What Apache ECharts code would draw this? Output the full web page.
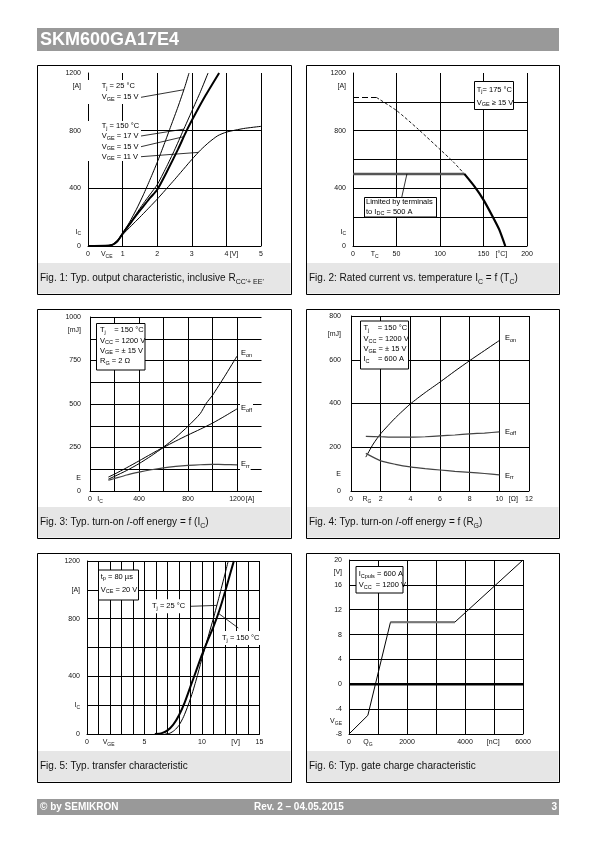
<!DOCTYPE html>
<html><head><meta charset="utf-8">
<script src="https://cdn.jsdelivr.net/npm/echarts@6/dist/echarts.min.js"></script>
<style>html,body{margin:0;padding:0;background:#fff}#c{width:595px;height:842px}</style>
</head><body><div id="c"></div>
<script>
// ================= DATA =================
// Fig 1: output characteristic (VCE [V] -> IC [A])
const fig1_t25_vge15_vce  = [0, 0.5, 0.7, 0.85, 1.0, 1.2, 1.4, 1.6, 1.8, 2.0, 2.2, 2.4, 2.6, 2.8, 2.92];
const fig1_t25_vge15_ic   = [0, 1, 10, 40, 90, 165, 255, 355, 465, 580, 705, 835, 965, 1105, 1200];
const fig1_t150_vge17_vce = [0, 0.5, 0.7, 0.85, 1.0, 1.2, 1.4, 1.6, 1.8, 2.0, 2.25, 2.5, 2.75, 3.0, 3.25, 3.47];
const fig1_t150_vge17_ic  = [0, 1, 8, 35, 88, 155, 225, 295, 360, 425, 540, 665, 800, 935, 1070, 1200];
const fig1_t150_vge15_vce = [0, 0.5, 0.7, 0.85, 1.0, 1.2, 1.4, 1.6, 1.8, 2.0, 2.3, 2.6, 2.85, 3.1, 3.4, 3.79];
const fig1_t150_vge15_ic  = [0, 1, 8, 33, 85, 150, 215, 275, 335, 390, 525, 670, 800, 915, 1045, 1200];
const fig1_t150_vge11_vce = [0, 0.5, 0.7, 0.85, 1.0, 1.25, 1.5, 2.0, 2.5, 3.0, 3.25, 3.5, 3.75, 4.0, 4.5, 5.0];
const fig1_t150_vge11_ic  = [0, 1, 6, 30, 78, 140, 200, 325, 460, 600, 665, 720, 765, 790, 815, 830];
const fig1_xTicks = [0, 1, 2, 3, 4, 5];
const fig1_yTicks = [0, 400, 800, 1200];

// Fig 2: rated current vs. case temperature (TC [°C] -> IC [A])
const fig2_flat_tc    = [0, 27];
const fig2_flat_ic    = [1030, 1030];
const fig2_dash_tc    = [27, 50, 75, 100, 115, 128];
const fig2_dash_ic    = [1030, 940, 810, 670, 585, 500];
const fig2_limit_tc   = [0, 128];
const fig2_limit_ic   = [500, 500];
const fig2_solid_tc   = [128, 140, 150, 160, 168, 175];
const fig2_solid_ic   = [500, 410, 320, 210, 115, 0];
const fig2_xTicks = [0, 50, 100, 150, 200];
const fig2_yTicks = [0, 400, 800, 1200];

// Fig 3: switching energy vs IC (IC [A] -> E [mJ])
const fig3_eon_ic  = [150, 200, 300, 400, 500, 600, 700, 800, 900, 950, 1000, 1100, 1200];
const fig3_eon     = [80, 97, 134, 173, 213, 253, 308, 372, 445, 505, 550, 660, 775];
const fig3_ic      = [150, 200, 300, 400, 500, 600, 700, 800, 900, 1000, 1100, 1200];
const fig3_eoff    = [68, 84, 118, 157, 202, 250, 287, 322, 355, 390, 430, 472];
const fig3_err     = [62, 72, 92, 108, 122, 133, 141, 147, 151, 153, 152, 150];
const fig3_xTicks = [0, 400, 800, 1200];
const fig3_yTicks = [0, 250, 500, 750, 1000];

// Fig 4: switching energy vs RG (RG [Ohm] -> E [mJ])
const fig4_eon_rg  = [1, 1.5, 2, 3, 4, 5, 6, 7, 8, 9, 10];
const fig4_eon     = [155, 215, 262, 335, 398, 450, 498, 548, 596, 642, 688];
const fig4_rg      = [1, 2, 3, 4, 5, 6, 7, 8, 9, 10];
const fig4_eoff    = [250, 248, 246, 246, 248, 252, 256, 261, 265, 270];
const fig4_err     = [172, 138, 122, 110, 102, 96, 90, 85, 80, 74];
const fig4_xTicks = [0, 2, 4, 6, 8, 10, 12];
const fig4_yTicks = [0, 200, 400, 600, 800];

// Fig 5: transfer characteristic (VGE [V] -> IC [A])
const fig5_t150_vge = [5.9, 6.5, 7.0, 7.5, 8.0, 8.5, 9.0, 9.5, 10.0, 10.5, 11.0, 11.5, 12.0, 12.5, 12.77];
const fig5_t150_ic  = [0, 6, 25, 65, 130, 220, 330, 440, 550, 650, 745, 855, 985, 1125, 1200];
const fig5_t25_vge  = [6.8, 7.2, 7.6, 8.0, 8.4, 8.8, 9.2, 9.6, 10.0, 10.5, 11.0, 11.5, 12.0, 12.28];
const fig5_t25_ic   = [0, 5, 25, 60, 120, 200, 295, 405, 525, 665, 805, 955, 1110, 1200];
const fig5_xTicks = [0, 5, 10, 15];
const fig5_yTicks = [0, 400, 800, 1200];

// Fig 6: gate charge (QG [nC] -> VGE [V])
const fig6_qg      = [0, 650, 1430, 3650, 6000];
const fig6_vge     = [-8, -5, 10, 10, 20];
const fig6_plat_qg = [1430, 3650];
const fig6_plat_v  = [10, 10];
const fig6_zero_qg = [0, 6000];
const fig6_zero_v  = [0, 0];
const fig6_xTicks = [0, 2000, 4000, 6000];
const fig6_yTicks = [-8, -4, 0, 4, 8, 12, 16, 20];

// ================= CHART =================
const FONT = '"Liberation Sans", Arial, Helvetica, sans-serif';
const chart = echarts.init(document.getElementById('c'), null, {renderer: 'canvas', width: 595, height: 842});

const RICH = {
  m: {fontSize: 7, lineHeight: 10, fontFamily: FONT, color: '#111'},
  s: {fontSize: 5, lineHeight: 6, verticalAlign: 'bottom', fontFamily: FONT, color: '#111'}
};
const sub = (m, s) => s ? `{m|${m}}{s|${s}}` : `{m|${m}}`;

const grids = [
  {left: 88,  top: 73,  width: 173,   height: 173},
  {left: 353, top: 73,  width: 174,   height: 173},
  {left: 90,  top: 317, width: 171.5, height: 174},
  {left: 351, top: 316, width: 178,   height: 175},
  {left: 87,  top: 561, width: 172.5, height: 173},
  {left: 349, top: 560, width: 174,   height: 174}
];

function axis(idx, min, max, interval, ticks, units, margin, showMax) {
  const map = {};
  ticks.forEach(t => map[String(t)] = sub(String(t)));
  units.forEach(u => map[String(u[0])] = sub(u[1], u[2]));
  return {
    type: 'value', gridIndex: idx, min, max, interval,
    axisLine: {show: true, onZero: false, lineStyle: {color: '#000', width: 1}},
    axisTick: {show: false},
    axisLabel: {
      customValues: ticks.concat(units.map(u => u[0])),
      formatter: v => map[String(v)] || '',
      rich: RICH, margin, hideOverlap: false, showMinLabel: true, showMaxLabel: true
    },
    splitLine: {show: true, showMinLine: false, showMaxLine: showMax, lineStyle: {color: '#000', width: 1}}
  };
}

const xAxes = [
  axis(0, 0, 5, 1, fig1_xTicks, [[0.54, 'V', 'CE'], [4.22, '[V]']], 3, true),
  axis(1, 0, 200, 50, fig2_xTicks, [[25, 'T', 'C'], [170.5, '[°C]']], 3, true),
  axis(2, 0, 1400, 200, fig3_xTicks, [[82, 'I', 'C'], [1306, '[A]']], 3.5, false),
  axis(3, 0, 12, 2, fig4_xTicks, [[1.08, 'R', 'G'], [10.94, '[Ω]']], 3.5, true),
  axis(4, 0, 15, 1, fig5_xTicks, [[1.88, 'V', 'GE'], [12.92, '[V]']], 3.5, true),
  axis(5, 0, 6000, 1000, fig6_xTicks, [[653, 'Q', 'G'], [4974, '[nC]']], 3.5, true)
];
const yAxes = [
  axis(0, 0, 1200, 400, fig1_yTicks, [[100, 'I', 'C'], [1112, '[A]']], 7, false),
  axis(1, 0, 1200, 200, fig2_yTicks, [[100, 'I', 'C'], [1112, '[A]']], 7, false),
  axis(2, 0, 1000, 125, fig3_yTicks, [[77, 'E'], [923, '[mJ]']], 9, true),
  axis(3, 0, 800, 200, fig4_yTicks, [[79, 'E'], [716, '[mJ]']], 10, true),
  axis(4, 0, 1200, 200, fig5_yTicks, [[200, 'I', 'C'], [1000, '[A]']], 7, true),
  axis(5, -8, 20, 4, fig6_yTicks, [[-5.9, 'V', 'GE'], [18, '[V]']], 7, true)
];

function ser(idx, xs, ys, o = {}) {
  return {
    type: 'line', xAxisIndex: idx, yAxisIndex: idx,
    data: xs.map((x, i) => [x, ys[i]]),
    symbol: 'none', showSymbol: false, smooth: o.smooth === undefined ? 0.2 : o.smooth,
    silent: true, animation: false, z: o.z || 3,
    lineStyle: {color: o.color || '#000', width: o.width || 1, type: o.type || 'solid'}
  };
}

const series = [
  ser(0, fig1_t25_vge15_vce, fig1_t25_vge15_ic, {width: 1}),
  ser(0, fig1_t150_vge17_vce, fig1_t150_vge17_ic, {width: 1}),
  ser(0, fig1_t150_vge15_vce, fig1_t150_vge15_ic, {width: 2}),
  ser(0, fig1_t150_vge11_vce, fig1_t150_vge11_ic, {width: 1}),

  ser(1, fig2_flat_tc, fig2_flat_ic, {width: 1.2, type: [6, 3], smooth: false}),
  ser(1, fig2_dash_tc, fig2_dash_ic, {width: 0.9, type: [3, 2]}),
  ser(1, fig2_limit_tc, fig2_limit_ic, {width: 2.5, color: '#555', smooth: false}),
  ser(1, fig2_solid_tc, fig2_solid_ic, {width: 2.2}),

  ser(2, fig3_eon_ic, fig3_eon, {width: 1}),
  ser(2, fig3_ic, fig3_eoff, {width: 1}),
  ser(2, fig3_ic, fig3_err, {width: 1.2, color: '#444'}),

  ser(3, fig4_eon_rg, fig4_eon, {width: 1}),
  ser(3, fig4_rg, fig4_eoff, {width: 1.2, color: '#444'}),
  ser(3, fig4_rg, fig4_err, {width: 1.2, color: '#444'}),

  ser(4, fig5_t25_vge, fig5_t25_ic, {width: 1}),
  ser(4, fig5_t150_vge, fig5_t150_ic, {width: 2}),

  ser(5, fig6_zero_qg, fig6_zero_v, {width: 2.5, smooth: false}),
  ser(5, fig6_qg, fig6_vge, {width: 1, smooth: false}),
  ser(5, fig6_plat_qg, fig6_plat_v, {width: 2, color: '#777', smooth: false, z: 4})
];

chart.setOption({
  animation: false,
  backgroundColor: '#fff',
  grid: grids,
  xAxis: xAxes,
  yAxis: yAxes,
  series
});

// ================= DECORATION / ANNOTATIONS =================
function interp(xs, ys, x) {
  for (let i = 1; i < xs.length; i++) {
    if (x <= xs[i]) { const t = (x - xs[i - 1]) / (xs[i] - xs[i - 1]); return ys[i - 1] + t * (ys[i] - ys[i - 1]); }
  }
  return ys[ys.length - 1];
}
const px = (g, x, y) => chart.convertToPixel({gridIndex: g}, [x, y]);

const RA = {
  m: {fontSize: 7.5, lineHeight: 10, fontFamily: FONT, fill: '#000'},
  s: {fontSize: 5.5, lineHeight: 6, verticalAlign: 'bottom', fontFamily: FONT, fill: '#000'}
};
const RC = {
  m: {fontSize: 10, lineHeight: 14, fontFamily: FONT, fill: '#111'},
  s: {fontSize: 7, lineHeight: 8, verticalAlign: 'bottom', fontFamily: FONT, fill: '#111'}
};
function T(x, y, text, o = {}) {
  return {type: 'text', x, y, z: o.z || 100, silent: true,
    style: {text, rich: o.rich || RA, align: o.align || 'left', verticalAlign: 'middle', fill: o.fill || '#000',
      font: o.font, backgroundColor: o.bg, padding: o.pad}};
}
function R(x, y, w, h, o = {}) {
  return {type: 'rect', z: o.z || 0, silent: true, shape: {x, y, width: w, height: h},
    style: {fill: o.fill || 'none', stroke: o.stroke || null, lineWidth: o.lw || 1}};
}
function L(x1, y1, p, o = {}) {
  return {type: 'line', z: 100, silent: true, shape: {x1, y1, x2: p[0], y2: p[1]},
    style: {stroke: '#000', lineWidth: o.lw || 0.8}};
}

const G = [];
// header & footer
G.push(R(37, 28, 522, 23, {fill: '#999999'}));
G.push({type: 'text', x: 40, y: 40, z: 10, silent: true, style: {text: 'SKM600GA17E4', fill: '#fff', font: 'bold 18px ' + FONT, verticalAlign: 'middle'}});
G.push(R(37, 799, 522, 16, {fill: '#999999'}));
G.push({type: 'text', x: 40, y: 807.5, z: 10, silent: true, style: {text: '© by SEMIKRON', fill: '#fff', font: 'bold 10px ' + FONT, verticalAlign: 'middle'}});
G.push({type: 'text', x: 254, y: 807.5, z: 10, silent: true, style: {text: 'Rev. 2 – 04.05.2015', fill: '#fff', font: 'bold 10px ' + FONT, verticalAlign: 'middle'}});
G.push({type: 'text', x: 557, y: 807.5, z: 10, silent: true, style: {text: '3', fill: '#fff', font: 'bold 10px ' + FONT, align: 'right', verticalAlign: 'middle'}});

// panel boxes & caption bands
const boxes = [[37, 65], [306, 65], [37, 309], [306, 309], [37, 553], [306, 553]];
const captions = [
  '{m|Fig. 1: Typ. output characteristic, inclusive R}{s|CC\'+ EE\'}',
  '{m|Fig. 2: Rated current vs. temperature I}{s|C}{m| = f (T}{s|C}{m|)}',
  '{m|Fig. 3: Typ. turn-on /-off energy = f (I}{s|C}{m|)}',
  '{m|Fig. 4: Typ. turn-on /-off energy = f (R}{s|G}{m|)}',
  '{m|Fig. 5: Typ. transfer characteristic}',
  '{m|Fig. 6: Typ. gate charge characteristic}'
];
boxes.forEach(([bx, by], i) => {
  const w = i % 2 === 0 ? 254 : 253;
  G.push(R(bx + 0.5, by + 198, w - 1, 30.5, {fill: '#e6e6e6', z: 0}));
  G.push(R(bx + 0.5, by + 0.5, w, 229, {stroke: '#000', lw: 1, z: 1}));
  G.push(T(bx + 3, by + 213.5, captions[i], {rich: RC, z: 5}));
});

// ---- Fig 1 annotations
G.push(R(84, 80, 57, 24, {fill: '#fff', z: 90}));
G.push(R(84, 121, 57, 40, {fill: '#fff', z: 90}));
G.push(T(101.7, 86, '{m|T}{s|j}{m| = 25 °C}'));
G.push(T(101.7, 97.3, '{m|V}{s|GE}{m| = 15 V}'));
G.push(T(101.7, 126, '{m|T}{s|j}{m| = 150 °C}'));
G.push(T(101.7, 136, '{m|V}{s|GE}{m| = 17 V}'));
G.push(T(101.7, 146.7, '{m|V}{s|GE}{m| = 15 V}'));
G.push(T(101.7, 156.7, '{m|V}{s|GE}{m| = 11 V}'));
G.push(L(141, 97.3, px(0, 2.77, interp(fig1_t25_vge15_vce, fig1_t25_vge15_ic, 2.77))));
G.push(L(141, 136, px(0, 2.77, interp(fig1_t150_vge17_vce, fig1_t150_vge17_ic, 2.77))));
G.push(L(141, 146.7, px(0, 2.77, interp(fig1_t150_vge15_vce, fig1_t150_vge15_ic, 2.77))));
G.push(L(141, 156.7, px(0, 3.19, interp(fig1_t150_vge11_vce, fig1_t150_vge11_ic, 3.19))));

// ---- Fig 2 annotations
G.push(R(474.5, 81.5, 39, 28, {fill: '#fff', stroke: '#000', z: 90}));
G.push(T(476.7, 89.5, '{m|T}{s|j}{m|= 175 °C}'));
G.push(T(476.7, 102.5, '{m|V}{s|GE}{m| ≥ 15 V}'));
G.push(R(364.5, 197.5, 72, 19.5, {fill: '#fff', stroke: '#000', z: 90}));
G.push(T(366, 202, '{m|Limited by terminals}'));
G.push(T(366, 211.5, '{m|to I}{s|DC}{m| = 500 A}'));
G.push(L(401.7, 197.5, px(1, 62, 500)));

// ---- Fig 3 annotations
G.push(R(96.5, 323.5, 48.5, 46.5, {fill: '#fff', stroke: '#000', z: 90}));
G.push(T(100, 330, '{m|T}{s|j}{m|    = 150 °C}'));
G.push(T(100, 340.7, '{m|V}{s|CC}{m| = 1200 V}'));
G.push(T(100, 350.7, '{m|V}{s|GE}{m| = ± 15 V}'));
G.push(T(100, 361, '{m|R}{s|G}{m| = 2 Ω}'));
G.push(T(240, 353.3, '{m|E}{s|on}', {bg: '#fff', pad: [1, 1, 1, 1]}));
G.push(T(240, 408.3, '{m|E}{s|off}', {bg: '#fff', pad: [1, 1, 1, 1]}));
G.push(T(240, 464.3, '{m|E}{s|rr}', {bg: '#fff', pad: [1, 1, 1, 1]}));

// ---- Fig 4 annotations
G.push(R(360.5, 321, 48, 48, {fill: '#fff', stroke: '#000', z: 90}));
G.push(T(363.5, 328.3, '{m|T}{s|j}{m|    = 150 °C}'));
G.push(T(363.5, 339, '{m|V}{s|CC}{m| = 1200 V}'));
G.push(T(363.5, 349.3, '{m|V}{s|GE}{m| = ± 15 V}'));
G.push(T(363.5, 359.3, '{m|I}{s|C}{m|    = 600 A}'));
G.push(T(504, 338.3, '{m|E}{s|on}', {bg: '#fff', pad: [1, 1, 1, 1]}));
G.push(T(504, 431.7, '{m|E}{s|off}', {bg: '#fff', pad: [1, 1, 1, 1]}));
G.push(T(504, 475.7, '{m|E}{s|rr}', {bg: '#fff', pad: [1, 1, 1, 1]}));

// ---- Fig 5 annotations
G.push(R(98.5, 570, 40, 30, {fill: '#fff', stroke: '#000', z: 90}));
G.push(T(100.7, 576.5, '{m|t}{s|p}{m| = 80 µs}'));
G.push(T(100.7, 589.7, '{m|V}{s|CE}{m| = 20 V}'));
G.push(T(151, 606.3, '{m|T}{s|j}{m| = 25 °C}', {bg: '#fff', pad: [2, 1, 2, 1]}));
G.push(L(190.5, 606.3, px(4, 11.29, interp(fig5_t25_vge, fig5_t25_ic, 11.29))));
G.push(T(221, 638, '{m|T}{s|j}{m| = 150 °C}', {bg: '#fff', pad: [2, 1, 2, 1]}));
G.push(L(238.3, 628, px(4, 11.42, interp(fig5_t150_vge, fig5_t150_ic, 11.42))));

// ---- Fig 6 annotations
G.push(R(356, 566.5, 47, 26.5, {fill: '#fff', stroke: '#000', z: 90}));
G.push(T(358.7, 574, '{m|I}{s|Cpuls}{m| = 600 A}'));
G.push(T(358.7, 585.3, '{m|V}{s|CC}{m|  = 1200 V}'));

chart.setOption({graphic: {elements: G}});
</script>
</body></html>
